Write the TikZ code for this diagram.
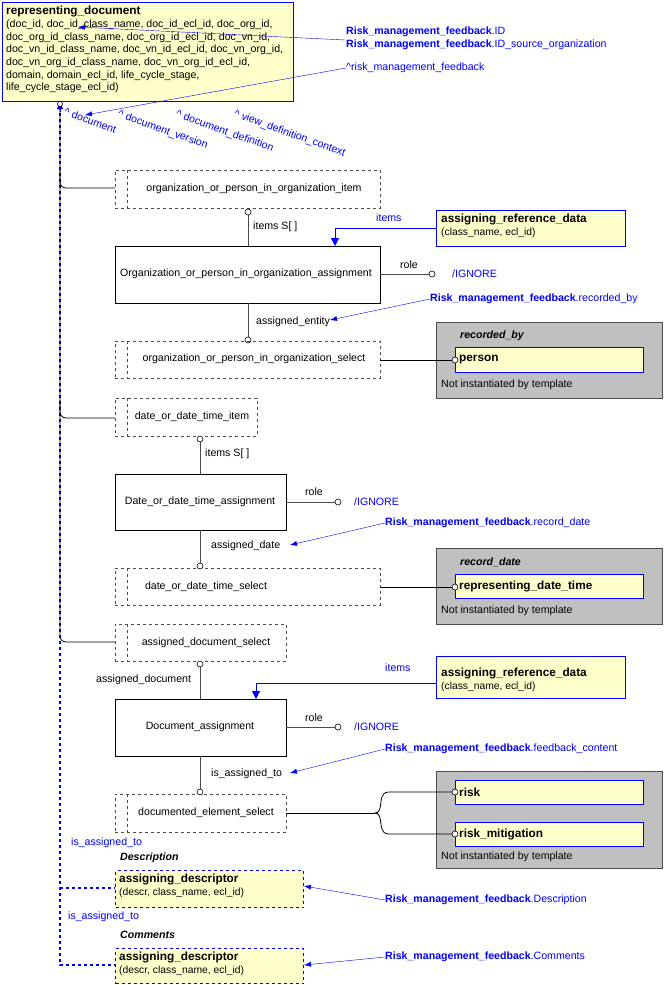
\documentclass[tikz,border=0pt]{standalone}
\usepackage{fontspec}
\setmainfont{Liberation Sans}
\usetikzlibrary{arrows.meta,positioning}
\definecolor{yel}{HTML}{FFFFCC}
\definecolor{bl}{HTML}{0000FF}
\definecolor{gr}{HTML}{C0C0C0}
\newcommand\hbf{\fontsize{11.8}{13}\selectfont\bfseries}
\newcommand\smf{\fontsize{10.3}{11.5}\selectfont}
\begin{document}
\begin{tikzpicture}[x=1pt,y=-1pt,
  every node/.style={font=\fontsize{10.6}{12.7}\selectfont, inner sep=0pt},
  sel/.style={draw=black!70, dashed, anchor=north west},
  ent/.style={draw=black, anchor=north west},
  yb/.style={draw=bl, thick, fill=yel, anchor=north west},
  grey/.style={draw=black!70, fill=gr, anchor=north west},
  bt/.style={text=bl},
  ln/.style={draw=black!70, line width=0.8pt},
  bar/.style={-{Latex[length=7pt,width=5pt]}, draw=bl},
  circ/.style={circle, draw=black, fill=white, minimum size=6pt, line width=0.6pt},
  bh/.style={font=\hbf},
  ti/.style={font=\fontsize{10.6}{12}\selectfont\bfseries\itshape}
]
\useasboundingbox (0,0) rectangle (664,985);
% representing_document
\node[yb, line width=1.4pt, minimum width=291pt, minimum height=99pt] (rd) at (2,2) {};
\node[anchor=north west, align=left] (rdt) at (6,6) {{\hbf representing\_document}\\(doc\_id, doc\_id\_class\_name, doc\_id\_ecl\_id, doc\_org\_id,\\doc\_org\_id\_class\_name, doc\_org\_id\_ecl\_id, doc\_vn\_id,\\doc\_vn\_id\_class\_name, doc\_vn\_id\_ecl\_id, doc\_vn\_org\_id,\\doc\_vn\_org\_id\_class\_name, doc\_vn\_org\_id\_ecl\_id,\\domain, domain\_ecl\_id, life\_cycle\_stage,\\life\_cycle\_stage\_ecl\_id)};
\coordinate (rdb) at (60,101);
% top right labels
\node[bt, anchor=west] (lid) at (346,32) {\textbf{Risk\_management\_feedback}.ID};
\node[bt, anchor=west] (lids) at (346,45) {\textbf{Risk\_management\_feedback}.ID\_source\_organization};
\coordinate (aid) at (78,27);
\draw[bar] (345,40) -- (aid);
\node[bt, anchor=west] (lrmf) at (346,68) {\textasciicircum risk\_management\_feedback};
\coordinate (armf) at (85,115);
\draw[bar] (lrmf.west) -- (armf);
\node[bt, anchor=north west, rotate=-20] (r1) at (66,107) {\textasciicircum\ document};
\node[bt, anchor=north west, rotate=-20] (r2) at (120,109) {\textasciicircum\ document\_version};
\node[bt, anchor=north west, rotate=-20] (r3) at (178,109) {\textasciicircum\ document\_definition};
\node[bt, anchor=north west, rotate=-20] (r4) at (236,109) {\textasciicircum\ view\_definition\_context};
% spine
\coordinate (s1) at (60,188);\coordinate (s2) at (60,418);\coordinate (s3) at (60,642);
\draw[bl, dashed, line width=1.2pt] (rdb) -- (60,965) -- (115,965);
\draw[bl, dashed, line width=1.2pt] (60,888) -- (115,888);
\draw[ln, black, rounded corners=6pt] (rdb) -- (s3) -- (115,642);
\draw[ln, black, rounded corners=6pt] (60,170) -- (s1) -- (115,188);
\draw[ln, black, rounded corners=6pt] (60,400) -- (s2) -- (115,418);
\draw[bl, -{Triangle[length=7pt,width=6pt]}, line width=1pt] (60,112) -- (60,102);
\node[circ, minimum size=5pt] (rc) at (60,104) {};
% org item
\node[sel, minimum width=265pt, minimum height=38pt] (oi) at (115,170) {};
\draw[black!70, dashed] (127,170) -- (127,208);
\node (oit) at (254,189) {organization\_or\_person\_in\_organization\_item};
\node[ent, minimum width=265pt, minimum height=57pt] (oa) at (115,246) {};
\node (oat) at (246,274) {Organization\_or\_person\_in\_organization\_assignment};
\draw[ln] (248,208) -- (248,246);
\node[circ] (c1) at (248,212) {};
\node[anchor=west] (is1) at (253,227) {items S[ ]};
\draw[ln] (380,274) -- (432,274);
\node[circ] (c2) at (432,274) {};
\node[anchor=west] (ro1) at (400,265) {role};
\node[bt, anchor=west] (ig1) at (452,274) {/IGNORE};
\node[yb, minimum width=189pt, minimum height=36pt] (ard1) at (436,210) {};
\node[anchor=north west, align=left] (ard1t) at (441,214) {{\hbf assigning\_reference\_data}\\{\smf(class\_name, ecl\_id)}};
\node[bt, anchor=west] (it1) at (376,218) {items};
\draw[bl, line width=1pt, -{Triangle[length=8pt,width=8pt]}] (436,228) -- (335,228) -- (335,246);
\node[bt, anchor=west] (rb) at (430,299) {\textbf{Risk\_management\_feedback}.recorded\_by};
\coordinate (arb) at (330,320);
\draw[bar] (rb.west) -- (arb);
\node[anchor=west] (ae) at (256,322) {assigned\_entity};
\draw[ln] (248,303) -- (248,341);
\node[circ] (c3) at (248,340) {};
\node[sel, minimum width=265pt, minimum height=37pt] (os) at (115,341) {};
\draw[black!70, dashed] (127,341) -- (127,378);
\node (ost) at (254,359) {organization\_or\_person\_in\_organization\_select};
\node[grey, minimum width=226pt, minimum height=76pt] (g1) at (436,322) {};
\node[ti, anchor=west] (g1t) at (460,336) {recorded\_by};
\node[yb, minimum width=188pt, minimum height=25pt] (pe) at (455,347) {};
\node[bh, anchor=west] (pet) at (459,360) {person};
\node[anchor=west] (g1n) at (441,385) {Not instantiated by template};
\draw[ln, black] (380,360) -- (452,360);
\node[circ] (c4) at (455,360) {};
% date
\node[sel, minimum width=142pt, minimum height=38pt] (di) at (115,398) {};
\draw[black!70, dashed] (127,398) -- (127,436);
\node (dit) at (192,417) {date\_or\_date\_time\_item};
\draw[ln] (200,436) -- (200,474);
\node[circ] (c5) at (200,439) {};
\node[anchor=west] (is2) at (205,454) {items S[ ]};
\node[ent, minimum width=171pt, minimum height=56pt] (da) at (115,474) {};
\node (dat) at (200,502) {Date\_or\_date\_time\_assignment};
\draw[ln] (286,502) -- (338,502);
\node[circ] (c6) at (338,502) {};
\node[anchor=west] (ro2) at (305,492) {role};
\node[bt, anchor=west] (ig2) at (354,502) {/IGNORE};
\node[bt, anchor=west] (rdl) at (385,523) {\textbf{Risk\_management\_feedback}.record\_date};
\coordinate (ardl) at (290,545);
\draw[bar] (rdl.west) -- (ardl);
\node[anchor=west] (ad) at (211,546) {assigned\_date};
\draw[ln] (200,530) -- (200,568);
\node[circ] (c7) at (200,566) {};
\node[sel, minimum width=265pt, minimum height=37pt] (ds) at (115,568) {};
\draw[black!70, dashed] (127,568) -- (127,605);
\node (dst) at (206,587) {date\_or\_date\_time\_select};
\node[grey, minimum width=226pt, minimum height=76pt] (g2) at (436,548) {};
\node[ti, anchor=west] (g2t) at (460,562) {record\_date};
\node[yb, minimum width=188pt, minimum height=24pt] (rdt2) at (455,574) {};
\node[bh, anchor=west] (rdtt) at (459,586) {representing\_date\_time};
\node[anchor=west] (g2n) at (441,611) {Not instantiated by template};
\draw[ln, black] (380,587) -- (452,587);
\node[circ] (c8) at (455,587) {};
% document
\node[sel, minimum width=171pt, minimum height=37pt] (ads) at (115,624) {};
\draw[black!70, dashed] (127,624) -- (127,661);
\node (adst) at (206,643) {assigned\_document\_select};
\draw[ln] (200,661) -- (200,699);
\node[circ] (c9) at (200,664) {};
\node[anchor=west] (adl) at (96,680) {assigned\_document};
\node[yb, minimum width=189pt, minimum height=42pt] (ard2) at (436,656) {};
\node[anchor=north west, align=left] (ard2t) at (441,668) {{\hbf assigning\_reference\_data}\\{\smf(class\_name, ecl\_id)}};
\node[bt, anchor=west] (it2) at (385,668) {items};
\draw[bl, line width=1pt, -{Triangle[length=8pt,width=8pt]}] (436,683) -- (256,683) -- (256,699);
\node[ent, minimum width=171pt, minimum height=57pt] (dca) at (115,699) {};
\node (dcat) at (200,727) {Document\_assignment};
\draw[ln] (286,727) -- (338,727);
\node[circ] (c10) at (338,727) {};
\node[anchor=west] (ro3) at (305,718) {role};
\node[bt, anchor=west] (ig3) at (354,727) {/IGNORE};
\node[bt, anchor=west] (rfc) at (385,749) {\textbf{Risk\_management\_feedback}.feedback\_content};
\coordinate (arfc) at (290,773);
\draw[bar] (rfc.west) -- (arfc);
\node[anchor=west] (iat) at (211,774) {is\_assigned\_to};
\draw[ln] (200,756) -- (200,794);
\node[circ] (c11) at (200,792) {};
\node[sel, minimum width=171pt, minimum height=38pt] (des) at (115,794) {};
\draw[black!70, dashed] (127,794) -- (127,832);
\node (dest) at (206,813) {documented\_element\_select};
\node[grey, minimum width=226pt, minimum height=97pt] (g3) at (436,771) {};
\node[yb, minimum width=188pt, minimum height=24pt] (rk) at (455,780) {};
\node[bh, anchor=west] (rkt) at (459,792) {risk};
\node[yb, minimum width=188pt, minimum height=24pt] (rm) at (455,822) {};
\node[bh, anchor=west] (rmt) at (459,834) {risk\_mitigation};
\node[anchor=west] (g3n) at (441,857) {Not instantiated by template};
\draw[ln, black] (286,813) -- (375,813);
\draw[ln, black] (375,813) .. controls (382,813) and (380,801) .. (382,797) .. controls (384,792) and (386,792) .. (392,792) -- (452,792);
\draw[ln, black] (375,813) .. controls (382,813) and (380,825) .. (382,829) .. controls (384,834) and (386,834) .. (392,834) -- (452,834);
\node[circ] (c12) at (455,792) {};
\node[circ] (c13) at (455,834) {};
% descriptors
\node[bt, anchor=west] (ia1) at (71,843) {is\_assigned\_to};
\node[ti, anchor=west] (dl) at (120,858) {Description};
\node[yb, dashed, line width=1.2pt, minimum width=188pt, minimum height=37pt] (ad1) at (115,870) {};
\node[anchor=north west, align=left] (ad1t) at (119,874) {{\hbf assigning\_descriptor}\\{\smf(descr, class\_name, ecl\_id)}};
\node[bt, anchor=west] (rdsc) at (385,900) {\textbf{Risk\_management\_feedback}.Description};
\coordinate (ard) at (304,886);
\draw[bar] (rdsc.west) -- (ard);
\node[bt, anchor=west] (ia2) at (68,917) {is\_assigned\_to};
\node[ti, anchor=west] (cl) at (120,935) {Comments};
\node[yb, dashed, line width=1.2pt, minimum width=188pt, minimum height=35pt] (ad2) at (115,948) {};
\node[anchor=north west, align=left] (ad2t) at (119,952) {{\hbf assigning\_descriptor}\\{\smf(descr, class\_name, ecl\_id)}};
\node[bt, anchor=west] (rcm) at (385,957) {\textbf{Risk\_management\_feedback}.Comments};
\coordinate (arc) at (304,965);
\draw[bar] (rcm.west) -- (arc);
\end{tikzpicture}
\end{document}
